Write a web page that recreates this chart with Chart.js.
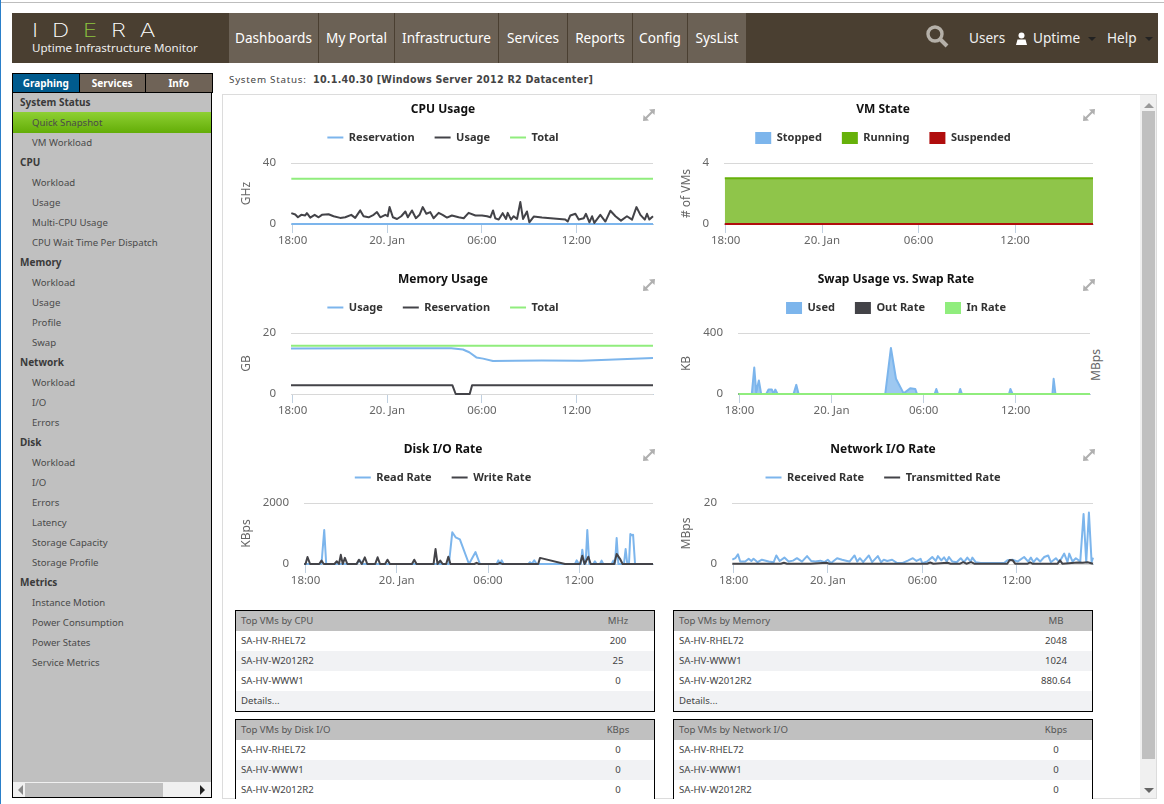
<!DOCTYPE html>
<html>
<head>
<meta charset="utf-8">
<title>Uptime Infrastructure Monitor</title>
<script src="https://cdn.jsdelivr.net/npm/chart.js@4/dist/chart.umd.min.js"></script>
<style>
html, body { margin: 0; padding: 0; background: #fff; overflow: hidden; }
body { width: 1164px; height: 804px; position: relative; font-family: "Noto Sans", sans-serif; color: #444; }
.abs { position: absolute; }
#topline { left: 0; top: 2px; width: 1164px; height: 1px; background: #bdbdbd; }
#edge { left: 0; top: 0; width: 1px; height: 804px; background: #2a7fc9; }
#bar { left: 12px; top: 13px; width: 1146px; height: 50px; background: #4a3f31; }
#logo { left: 32px; top: 20px; color: #fff; font-size: 19px; letter-spacing: 11px; font-family: "Inter", sans-serif; font-weight: 200; line-height: 22px; transform: scaleX(1.26); transform-origin: left center; }
#logo b { color: #8dc63f; font-weight: 200; }
#product { left: 32px; top: 40px; color: #eee; font-size: 11.6px; line-height: 16px; white-space: nowrap; }
.nav { top: 13px; height: 50px; line-height: 50px; background: #6b6155; color: #fff; text-align: center; font-size: 13.6px; box-sizing: border-box; border-left: 1px solid #4a3f31; white-space: nowrap; }
.userlink { top: 13px; line-height: 50px; color: #f0f0f0; font-size: 13.6px; white-space: nowrap; }
.caret { width: 0; height: 0; border: 4px solid transparent; border-top: 4px solid #222; top: 37px; }
#side { left: 12px; top: 73px; width: 200px; height: 725px; box-sizing: border-box; border: 1px solid #000; background: #c0c0c0; }
.tab { top: 73px; height: 20px; line-height: 18px; text-align: center; color: #fff; font-size: 10px; font-weight: 700; box-sizing: border-box; border: 1px solid #000; background: #6f6357; }
.sidehead { left: 20px; font-size: 10px; font-weight: 700; color: #3a3a3a; line-height: 14px; white-space: nowrap; }
.sideitem { left: 32px; font-size: 9.6px; color: #4a4a4a; line-height: 14px; white-space: nowrap; }
#active { left: 13px; top: 112px; width: 198px; height: 21px; background: linear-gradient(#8ed033, #63ad07); }
#hscroll { left: 13px; top: 782px; width: 198px; height: 15px; background: #f0f0f0; }
#hthumb { left: 25px; top: 783px; width: 138px; height: 14px; background: #c0c0c0; }
#status { left: 229px; top: 73px; font-size: 9.8px; line-height: 14px; letter-spacing: .75px; white-space: nowrap; }
#status b { font-family: "DejaVu Sans"; font-size: 9.6px; color: #444; letter-spacing: .25px; margin-left: 3px; }
#panel { left: 222px; top: 94px; width: 935px; height: 705px; box-sizing: border-box; border: 1px solid #dcdcdc; }
#vtrack { left: 1140px; top: 95px; width: 16px; height: 703px; background: #f0f0f0; }
#vthumb { left: 1142px; top: 111px; width: 13px; height: 648px; background: #c0c0c0; }
canvas { position: absolute; }
.mbps { left: 1074px; top: 358px; width: 44px; text-align: center; font-size: 12px; color: #666; transform: rotate(-90deg); line-height: 14px; }
.grip { width: 14px; height: 14px; }
.tbl { box-sizing: border-box; border: 1px solid #000; overflow: hidden; background: #fff; font-size: 9.6px; color: #444; }
.tbl.clip { border-bottom: 0; }
.row { position: relative; height: 20px; line-height: 20px; padding-left: 5px; }
.row.head { background: #c0c0c0; color: #555; height: 20px; }
.row.alt { background: #f1f2f4; }
.row span { position: absolute; right: 0; width: 72px; text-align: center; }
</style>
</head>
<body>
<div class="abs" id="topline"></div>
<div class="abs" id="edge"></div>
<div class="abs" id="bar"></div>
<div class="abs" id="logo">ID<b>E</b>RA</div>
<div class="abs" id="product">Uptime Infrastructure Monitor</div>
<svg class="abs" style="left:925px;top:24px" width="24" height="24" viewBox="0 0 24 24"><circle cx="10" cy="10" r="7" fill="none" stroke="#b5b0a8" stroke-width="3.4"/><line x1="15" y1="15" x2="22" y2="22" stroke="#b5b0a8" stroke-width="4"/></svg>
<div class="abs userlink" style="left:969px">Users</div>
<svg class="abs" style="left:1016px;top:32px" width="11" height="13" viewBox="0 0 11 13"><circle cx="5.5" cy="3.5" r="3" fill="#fff"/><path d="M0 13 L1.5 7.5 L9.5 7.5 L11 13 Z" fill="#fff"/></svg>
<div class="abs userlink" style="left:1033px">Uptime</div>
<div class="abs caret" style="left:1088px"></div>
<div class="abs userlink" style="left:1107px">Help</div>
<div class="abs caret" style="left:1145px"></div>

<div class="abs" id="side"></div>
<div class="abs" id="active"></div>
<div class="abs" id="hscroll"></div>
<div class="abs" id="hthumb"></div>
<div class="abs" id="status">System Status: <b>10.1.40.30 [Windows Server 2012 R2 Datacenter]</b></div>
<div class="abs" id="panel"></div>
<div class="abs" id="vtrack"></div>
<div class="abs" id="vthumb"></div>
<div class="abs" style="left:1144px;top:103px;width:0;height:0;border:5px solid transparent;border-bottom:5px solid #999;border-top:0"></div>
<div class="abs" style="left:1144px;top:788px;width:0;height:0;border:5px solid transparent;border-top:5px solid #666;border-bottom:0"></div>
<div class="abs" style="left:18px;top:785px;width:0;height:0;border:5px solid transparent;border-right:5px solid #888;border-left:0"></div>
<div class="abs" style="left:200px;top:785px;width:0;height:0;border:5px solid transparent;border-left:5px solid #222;border-right:0"></div>

<div class="abs mbps">MBps</div>

<script>
// hours after 18:00 on the x axis, 0 = 18:00
const tickHours = [0, 6, 12, 18];
const tickLabels = ['18:00', '20. Jan', '06:00', '12:00'];
const spanHours = [-0.1, 22.85];

const cpuUsageHours = [
    -0.08, 0.17, 0.34, 0.55, 0.80, 0.91, 1.12, 1.40, 1.65, 1.86,
    2.28, 2.60, 3.02, 3.34, 3.72, 3.97, 4.29, 4.50, 4.82, 5.14,
    5.35, 5.56, 5.88, 6.03, 6.15, 6.36, 6.62, 6.89, 7.15, 7.31,
    7.57, 7.82, 8.05, 8.25, 8.48, 8.73, 8.94, 9.26, 9.51, 9.79,
    10.1, 10.53, 10.85, 11.16, 11.59, 12.01, 12.33, 12.54, 12.71, 12.85,
    13.07, 13.32, 13.53, 13.64, 13.85, 14.02, 14.23, 14.44, 14.61, 14.86,
    15.01, 15.29, 15.81, 17.29, 17.44, 17.61, 17.93, 18.14, 18.46, 18.6,
    18.82, 18.99, 19.13, 19.51, 19.83, 20.15, 20.47, 20.82, 21.2, 21.52,
    21.8, 22.05, 22.33, 22.47, 22.62, 22.85
];
const cpuUsageValues = [
    7.1, 6.2, 4.4, 6, 5.6, 7.1, 4.2, 6, 4.4, 6,
    6.4, 5.1, 4, 4.4, 6, 4, 8.9, 5.1, 4.4, 6,
    7.8, 4.4, 6, 5.1, 11.1, 4.4, 3.3, 5.1, 8.2, 4.4,
    8.9, 3.8, 6, 11.1, 6.7, 7.8, 3.8, 7.3, 6, 4.2,
    5.6, 4.4, 3.8, 7.3, 5.6, 5.6, 5.1, 4.4, 8.9, 3.8,
    2.9, 7.1, 3.3, 7.3, 2.9, 5.1, 3.3, 14.4, 3.3, 8.2,
    1.1, 4.9, 4.2, 2.9, 1.6, 5.6, 6.7, 2.9, 3.8, 6.7,
    1.1, 5.1, 0.7, 6, 1.6, 8.7, 5.1, 2.2, 5.1, 2.9,
    11.1, 6, 2.9, 6.7, 2.9, 5.1
];
const cpuReservationHours = [-0.08, 22.85];
const cpuReservationValues = [0, 0];
const cpuTotalHours = [-0.08, 22.85];
const cpuTotalValues = [29.6, 29.6];

const vmHours = [-0.05, 22.85];
const vmStopped = [0, 0];
const vmRunning = [3, 3];
const vmSuspended = [0, 0];

const memUsageHours = [-0.1, 6, 10.06, 10.8, 11.2, 11.65, 12.08, 12.7, 14.1, 15.8, 18.3, 20, 22.85];
const memUsageValues = [14.9, 15, 15, 14.6, 13.7, 12, 11.6, 10.8, 10.9, 11, 10.9, 11.2, 11.8];
const memReservationHours = [-0.1, 10.13, 10.34, 11.23, 11.38, 22.85];
const memReservationValues = [2.9, 2.9, 0, 0, 2.9, 2.9];
const memTotalHours = [-0.1, 22.85];
const memTotalValues = [15.8, 15.8];

const swapUsedHours = [
    -0.07, 0.8, 0.96, 1.09, 1.26, 1.41, 1.74, 1.89, 2.11, 2.22, 2.33, 2.48,
    3.52, 3.7, 3.85, 9.5, 9.87, 10.2, 10.7, 11.13, 11.46, 11.57,
    12.72, 12.83, 12.94, 14.3, 14.39, 14.5, 17.57, 17.66, 17.8, 20.4, 20.48, 20.6, 22.85
];
const swapUsedValues = [
    0, 0, 173, 11, 89, 0, 0, 29, 29, 0, 29, 0,
    0, 60, 0, 0, 302, 100, 4, 38, 33, 0,
    0, 33, 0, 0, 33, 0, 0, 33, 0, 0, 100, 0, 0
];
const swapOutHours = [-0.07, 22.85];
const swapOutValues = [0, 0];
const swapInHours = [-0.07, 22.85];
const swapInValues = [0, 0];

const diskReadHours = [
    -0.09, 1.05, 1.23, 1.36, 3.36, 3.57, 3.7, 9.43, 9.65, 9.87, 10.15, 10.75, 11.18, 11.47,
    12.57, 12.68, 12.8, 12.9, 13.02, 14.65, 14.76, 14.87, 15.04, 15.2,
    17.72, 17.83, 17.98, 18.11, 18.2, 18.33, 18.42, 18.53, 18.66, 18.92, 19.03, 19.14,
    19.36, 19.47, 19.58, 20.13, 20.24, 20.35, 20.46, 20.57, 20.94, 21.05, 21.16, 21.27,
    21.36, 21.45, 21.54, 21.67, 22.85
];
const diskReadValues = [
    0, 0, 1115, 0, 0, 130, 0, 0, 1040, 875, 810, 0, 390, 0,
    0, 120, 0, 120, 0, 0, 60, 0, 120, 0,
    0, 120, 0, 0, 470, 0, 0, 1115, 0, 0, 90, 0,
    0, 110, 0, 0, 110, 0, 850, 0, 0, 490, 0, 0,
    985, 940, 960, 0, 0
];
const diskWriteHours = [
    -0.09, 0, 0.13, 0.3, 0.9, 1.05, 1.2, 1.9, 2.06, 2.2, 2.32, 2.45, 2.59, 2.75,
    3.36, 3.51, 3.7, 3.9, 4.06, 4.58, 4.74, 4.9, 5.23, 5.39, 5.55, 7.0, 7.15, 7.3,
    8.42, 8.55, 8.68, 8.86, 9.02, 9.25, 9.39, 9.53, 11.1, 11.25, 11.4, 12.65, 12.79, 12.93,
    15.3, 15.42, 17.06, 18.05, 18.2, 18.35, 18.6, 18.75, 20.3, 20.46, 20.68, 20.85, 22.85
];
const diskWriteValues = [
    0, 0, 230, 0, 0, 110, 0, 0, 90, 0, 300, 0, 200, 0,
    0, 140, 0, 220, 0, 0, 220, 0, 0, 140, 0, 0, 140, 0,
    0, 490, 0, 110, 0, 0, 240, 0, 0, 40, 0, 0, 40, 0,
    0, 200, 0, 0, 270, 0, 240, 0, 0, 330, 170, 0, 0
];

const netReceivedHours = [
    -0.08, 0.11, 0.28, 0.42, 0.74, 0.96, 1.13, 1.27, 1.53, 1.8,
    2.23, 2.55, 2.72, 2.93, 3.23, 3.5, 3.78, 4.03, 4.35, 4.67,
    4.93, 5.2, 5.52, 5.78, 5.99, 6.2, 6.58, 6.9, 7.22, 7.37,
    7.69, 7.86, 8.03, 8.24, 8.6, 8.81, 9.17, 9.38, 9.55, 9.77,
    10.08, 10.4, 10.72, 11.08, 11.4, 11.63, 11.89, 12, 12.31, 12.63,
    12.85, 12.99, 13.21, 13.38, 13.55, 13.69, 13.91, 14.18, 14.44, 14.65,
    14.86, 15.07, 15.18, 15.39, 15.71, 17.2, 17.41, 17.73, 18.05, 18.47,
    18.73, 18.9, 19.07, 19.28, 19.49, 19.75, 20, 20.17, 20.49, 20.7,
    21.02, 21.23, 21.34, 21.55, 21.76, 22.04, 22.25, 22.42, 22.59, 22.76, 22.85
];
const netReceivedValues = [
    1.4, 1.9, 3.2, 0.8, 0.8, 1.7, 1, 1.7, 0.6, 1.4,
    0.8, 0.6, 2.8, 1, 2.1, 0.8, 1.1, 1.9, 0.8, 2.6,
    1, 0.8, 1.1, 0.6, 1.4, 0.3, 1.9, 1.4, 1, 0.8,
    2.8, 0.8, 1.9, 0.6, 2.8, 0.6, 2.6, 0.6, 1.4, 1,
    1.4, 0.3, 0.3, 1.1, 1.9, 1, 1.7, 0.3, 0.8, 2.3,
    1, 2.6, 1.2, 2.2, 0.8, 2.3, 0.8, 0.6, 1.9, 0.6,
    2.1, 0.8, 2.1, 0.6, 0.3, 0.3, 1.2, 1.4, 0.8, 2.3,
    0.8, 2.1, 0.6, 1.9, 0.8, 2.3, 2.8, 0.6, 1.9, 0.6,
    3.4, 0.6, 3.4, 0.8, 1.9, 0.8, 16.4, 0.6, 16.9, 0.6, 2.1
];
const netSentHours = [
    -0.08, 3, 3.2, 3.4, 4.9, 5.9, 6.1, 12.3, 12.5, 12.7, 13.6, 13.8, 14.4, 14.6, 14.8, 15.1, 15.3,
    17.4, 17.55, 17.75, 17.9, 18.7, 18.85, 19, 20.6, 20.75, 20.9, 21.9, 22.2, 22.5, 22.85
];
const netSentValues = [
    0.1, 0.1, 0.4, 0.1, 0.1, 0.4, 0.1, 0.1, 0.5, 0.1, 0.4, 0.1, 0.1, 0.6, 0.1, 0.6, 0.1,
    0.1, 1.3, 1.2, 0.1, 0.1, 0.5, 0.1, 0.1, 1.2, 0.1, 0.5, 0.4, 0.6, 0.1
];

// side menu, tables
const sideHeads = ['System Status', 'CPU', 'Memory', 'Network', 'Disk', 'Metrics'];
const sideRows = [
    'System Status', 'Quick Snapshot', 'VM Workload', 'CPU', 'Workload', 'Usage', 'Multi-CPU Usage',
    'CPU Wait Time Per Dispatch', 'Memory', 'Workload', 'Usage', 'Profile', 'Swap', 'Network', 'Workload',
    'I/O', 'Errors', 'Disk', 'Workload', 'I/O', 'Errors', 'Latency', 'Storage Capacity', 'Storage Profile',
    'Metrics', 'Instance Motion', 'Power Consumption', 'Power States', 'Service Metrics'
];
const navLabels = ['Dashboards', 'My Portal', 'Infrastructure', 'Services', 'Reports', 'Config', 'SysList'];
const navEdges = [228, 318, 394, 498, 567, 632, 687, 746];
const tabLabels = ['Graphing', 'Services', 'Info'];

const topCpuNames = ['SA-HV-RHEL72', 'SA-HV-W2012R2', 'SA-HV-WWW1'];
const topCpuValues = ['200', '25', '0'];
const topMemNames = ['SA-HV-RHEL72', 'SA-HV-WWW1', 'SA-HV-W2012R2'];
const topMemValues = ['2048', '1024', '880.64'];
const topDiskNames = ['SA-HV-RHEL72', 'SA-HV-WWW1', 'SA-HV-W2012R2'];
const topDiskValues = ['0', '0', '0'];
const topNetNames = ['SA-HV-RHEL72', 'SA-HV-WWW1', 'SA-HV-W2012R2'];
const topNetValues = ['0', '0', '0'];

const BLUE = '#7cb5ec';
const DARK = '#434348';
const GREEN = '#90ed7d';

function zip(hours, values) {
    return hours.map((h, i) => ({ x: h, y: values[i] }));
}

function addDiv(cls, left, top, width, text) {
    let el = document.createElement('div');
    el.className = 'abs ' + cls;
    el.style.left = left + 'px';
    el.style.top = top + 'px';
    if (width) el.style.width = width + 'px';
    el.textContent = text;
    document.body.appendChild(el);
    return el;
}

/*
 * PAGE CHROME
 */
navLabels.forEach((label, i) => {
    addDiv('nav', navEdges[i], 13, navEdges[i + 1] - navEdges[i], label);
});

tabLabels.forEach((label, i) => {
    let tab = addDiv('tab', 12 + i * 66.5, 73, 67.5, label);
    if (i === 0) tab.style.background = '#005b8e';
});

sideRows.forEach((label, i) => {
    let isHead = sideHeads.includes(label);
    let el = addDiv(isHead ? 'sidehead' : 'sideitem', isHead ? 20 : 32, (isHead ? 94.5 : 95.5) + i * 20, 0, label);
    el.style.width = 'auto';
});

function addTable(left, top, height, title, unit, names, values, details) {
    let tbl = document.createElement('div');
    tbl.className = 'abs tbl' + (details ? '' : ' clip');
    tbl.style.left = left + 'px';
    tbl.style.top = top + 'px';
    tbl.style.width = '420px';
    tbl.style.height = height + 'px';
    let rows = '<div class="row head">' + title + '<span>' + unit + '</span></div>';
    names.forEach((name, i) => {
        rows += '<div class="row' + (i % 2 ? ' alt' : '') + '">' + name + '<span>' + values[i] + '</span></div>';
    });
    if (details) rows += '<div class="row alt">Details...</div>';
    tbl.innerHTML = rows;
    document.body.appendChild(tbl);
}
addTable(235, 610, 102, 'Top VMs by CPU', 'MHz', topCpuNames, topCpuValues, true);
addTable(673, 610, 102, 'Top VMs by Memory', 'MB', topMemNames, topMemValues, true);
addTable(235, 719, 80, 'Top VMs by Disk I/O', 'KBps', topDiskNames, topDiskValues, false);
addTable(673, 719, 80, 'Top VMs by Network I/O', 'Kbps', topNetNames, topNetValues, false);

/*
 * CHARTS
 */
function lineSet(label, hours, values, color) {
    return {
        label: label,
        data: zip(hours, values),
        borderColor: color,
        backgroundColor: color,
        borderWidth: 2,
        borderJoinStyle: 'round',
        pointRadius: 0,
        tension: 0,
        clip: 3,
        fill: false
    };
}

function areaSet(label, hours, values, color, fillColor) {
    let set = lineSet(label, hours, values, color);
    set.fill = 'origin';
    set.backgroundColor = fillColor;
    return set;
}

// keep the plot top at the same height whatever the legend measures
const legendGap = {
    id: 'legendGap',
    beforeLayout: function(chart) {
        let fit = chart.legend.fit;
        chart.legend.fit = function() {
            fit.call(this);
            this.height = 51;
        };
    },
    // the swap chart has its title and legend pushed right by the empty second axis
    afterLayout: function(chart, args, options) {
        [chart.titleBlock, chart.legend].forEach(box => {
            box.left += options.shift;
            box.right += options.shift;
        });
    }
};

function addChart(opts) {
    let canvas = document.createElement('canvas');
    canvas.width = 440;
    canvas.height = 170;
    canvas.style.left = opts.left + 'px';
    canvas.style.top = opts.top + 'px';
    canvas.style.width = '440px';
    canvas.style.height = '170px';
    document.body.appendChild(canvas);

    // the grip icon in the corner of each chart
    let grip = document.createElementNS('http://www.w3.org/2000/svg', 'svg');
    grip.setAttribute('class', 'abs grip');
    grip.setAttribute('viewBox', '0 0 14 14');
    grip.style.left = (opts.left + 419) + 'px';
    grip.style.top = (opts.top + 13) + 'px';
    grip.innerHTML = '<path d="M13 1 L7 1.5 L9 3.5 L3.5 9 L1.5 7 L1 13 L7 12.5 L5 10.5 L10.5 5 L12.5 7 Z" fill="#b0b0b0"/>';
    document.body.appendChild(grip);

    // later series paint over earlier ones
    opts.datasets.forEach((ds, i) => { ds.order = opts.datasets.length - i; });

    new Chart(canvas, {
        type: 'line',
        data: { datasets: opts.datasets },
        plugins: [legendGap],
        options: {
            responsive: false,
            animation: false,
            events: [],
            layout: { padding: { right: opts.sidePad, left: opts.sidePad, top: 0, bottom: 0 } },
            plugins: {
                legendGap: { shift: opts.shift || 0 },
                tooltip: { enabled: false },
                title: {
                    display: true,
                    text: opts.title,
                    color: '#111',
                    font: { family: 'Noto Sans', size: 12, weight: 'bold', lineHeight: 0.5 },
                    padding: { top: 12, bottom: -1 }
                },
                legend: {
                    display: true,
                    labels: {
                        color: '#333',
                        font: { family: 'Noto Sans', size: 11, weight: 'bold' },
                        padding: 20,
                        boxWidth: 16,
                        boxHeight: 12,
                        usePointStyle: !opts.boxes,
                        pointStyle: 'line',
                        pointStyleWidth: 16,
                        generateLabels: function(chart) {
                            return chart.data.datasets.map((ds, i) => ({
                                text: ds.label,
                                fillStyle: ds.borderColor,
                                strokeStyle: ds.borderColor,
                                lineWidth: opts.boxes ? 0 : 2,
                                fontColor: '#333',
                                pointStyle: 'line',
                                datasetIndex: i
                            }));
                        }
                    }
                }
            },
            scales: {
                x: {
                    type: 'linear',
                    min: spanHours[0],
                    max: spanHours[1],
                    grid: { drawOnChartArea: false, drawTicks: true, tickLength: 9, color: '#c0d0e0' },
                    border: { color: '#c0d0e0', width: 1, z: -1 },
                    ticks: {
                        color: '#666',
                        font: { family: 'Noto Sans', size: 11.5 },
                        padding: 1,
                        maxRotation: 0,
                        autoSkip: false,
                        callback: function(value) {
                            return tickLabels[tickHours.indexOf(value)];
                        }
                    },
                    afterBuildTicks: function(scale) {
                        scale.ticks = tickHours.map(h => ({ value: h }));
                    },
                    afterFit: function(scale) {
                        scale.height = 41;
                    }
                },
                y: {
                    min: 0,
                    max: opts.yMax,
                    grid: { color: '#d8d8d8', drawTicks: false },
                    border: { display: false },
                    afterBuildTicks: function(scale) {
                        scale.ticks = [{ value: 0 }, { value: opts.yMax }];
                    },
                    ticks: {
                        color: '#666',
                        font: { family: 'Noto Sans', size: 11.5 },
                        padding: 15,
                        callback: function(value) {
                            return String(value);
                        }
                    },
                    title: {
                        display: true,
                        text: opts.yTitle,
                        color: '#666',
                        font: { family: 'Noto Sans', size: 12 },
                        padding: { top: 16 - opts.sidePad, bottom: 0 }
                    },
                    afterFit: function(scale) {
                        scale.width = opts.plotLeft - opts.sidePad;
                    }
                }
            }
        }
    });
}

addChart({
    left: 223, top: 95, title: 'CPU Usage', yTitle: 'GHz', yMax: 40, plotLeft: 68, sidePad: 10,
    datasets: [
        lineSet('Reservation', cpuReservationHours, cpuReservationValues, BLUE),
        lineSet('Usage', cpuUsageHours, cpuUsageValues, DARK),
        lineSet('Total', cpuTotalHours, cpuTotalValues, GREEN)
    ]
});

addChart({
    left: 663, top: 95, title: 'VM State', yTitle: '# of VMs', yMax: 4, plotLeft: 61, sidePad: 10, boxes: true,
    datasets: [
        areaSet('Stopped', vmHours, vmStopped, BLUE, 'rgba(124,181,236,.75)'),
        areaSet('Running', vmHours, vmRunning, '#66b10a', 'rgba(106,178,14,.75)'),
        areaSet('Suspended', vmHours, vmSuspended, '#b00d0d', 'rgba(176,13,13,.75)')
    ]
});

addChart({
    left: 223, top: 265, title: 'Memory Usage', yTitle: 'GB', yMax: 20, plotLeft: 68, sidePad: 10,
    datasets: [
        lineSet('Usage', memUsageHours, memUsageValues, BLUE),
        lineSet('Reservation', memReservationHours, memReservationValues, DARK),
        lineSet('Total', memTotalHours, memTotalValues, GREEN)
    ]
});

addChart({
    left: 663, top: 265, title: 'Swap Usage vs. Swap Rate', yTitle: 'KB', yMax: 400, plotLeft: 75, sidePad: 13, boxes: true, shift: 13,
    datasets: [
        areaSet('Used', swapUsedHours, swapUsedValues, BLUE, 'rgba(124,181,236,.75)'),
        areaSet('Out Rate', swapOutHours, swapOutValues, DARK, 'rgba(67,67,72,.75)'),
        areaSet('In Rate', swapInHours, swapInValues, GREEN, 'rgba(144,237,125,.75)')
    ]
});

addChart({
    left: 223, top: 435, title: 'Disk I/O Rate', yTitle: 'KBps', yMax: 2000, plotLeft: 81, sidePad: 10,
    datasets: [
        lineSet('Read Rate', diskReadHours, diskReadValues, BLUE),
        lineSet('Write Rate', diskWriteHours, diskWriteValues, DARK)
    ]
});

addChart({
    left: 663, top: 435, title: 'Network I/O Rate', yTitle: 'MBps', yMax: 20, plotLeft: 69, sidePad: 10,
    datasets: [
        lineSet('Received Rate', netReceivedHours, netReceivedValues, BLUE),
        lineSet('Transmitted Rate', netSentHours, netSentValues, DARK)
    ]
});
</script>
</body>
</html>
